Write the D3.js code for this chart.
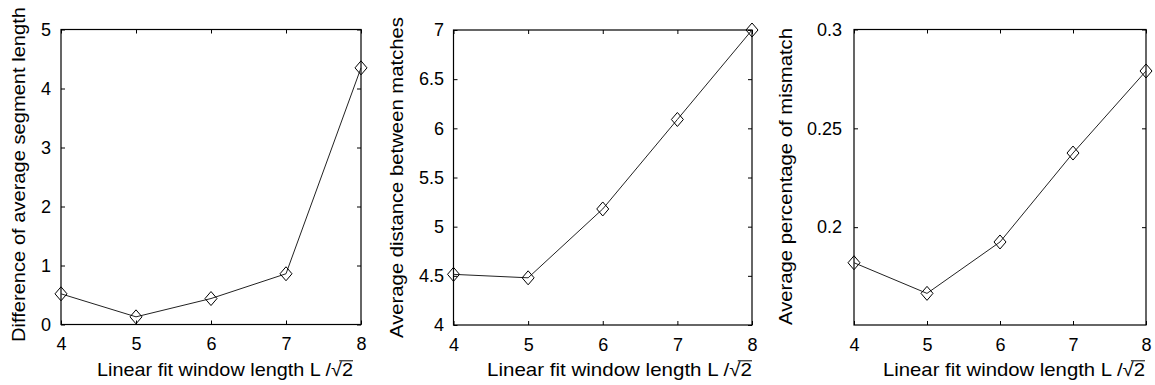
<!DOCTYPE html>
<html>
<head>
<meta charset="utf-8">
<script src="https://cdn.jsdelivr.net/npm/d3@7"></script>
<style>
  body { margin: 0; background: #fff; }
  text { font-family: "Liberation Sans", Arial, sans-serif; fill: #000; }
</style>
</head>
<body>
<svg id="chart" width="1155" height="385"></svg>
<script>
// window length L/sqrt(2), shared by all three panels
var windowLength = [4, 5, 6, 7, 8];
var xTicks = [4, 5, 6, 7, 8];

// panel 1
var segmentDiff = [0.52, 0.13, 0.44, 0.86, 4.35];
var segmentTicks = [0, 1, 2, 3, 4, 5];

// panel 2
var matchDistance = [4.515, 4.48, 5.18, 6.09, 7.0];
var distanceTicks = [4, 4.5, 5, 5.5, 6, 6.5, 7];

// panel 3
var mismatchPct = [0.182, 0.1665, 0.1925, 0.2375, 0.279];
var mismatchTicks = [0.2, 0.25, 0.3];

var xLabel = "Linear fit window length L /";

var panels = [
    { values: segmentDiff, ticks: segmentTicks, domain: [0, 5], ylabel: "Difference of average segment length",
      box: [61, 361, 29.5, 324.5], ylx: 25, yly: 174.5, yll: 335, xl: [97, 353], gap: 6 },
    { values: matchDistance, ticks: distanceTicks, domain: [4, 7], ylabel: "Average distance between matches",
      box: [453.5, 752, 30, 325], ylx: 403, yly: 177.5, yll: 321, xl: [487, 752], gap: 5.5 },
    { values: mismatchPct, ticks: mismatchTicks, domain: [0.1505, 0.3], ylabel: "Average percentage of mismatch",
      box: [854, 1146, 29.5, 325], ylx: 792, yly: 176.5, yll: 297, xl: [883, 1145], gap: 8 }
];

var svg = d3.select("#chart");
var tickLen = 4;

function diamond(hw, hh){
    return "M0," + (-hh) + "L" + hw + ",0L0," + hh + "L" + (-hw) + ",0Z";
}

panels.forEach(function(p){
    var x = d3.scaleLinear().domain([4, 8]).range([p.box[0], p.box[1]]);
    var y = d3.scaleLinear().domain(p.domain).range([p.box[3], p.box[2]]);
    var g = svg.append("g");

    // box
    g.append("rect")
        .attr("x", p.box[0]).attr("y", p.box[2])
        .attr("width", p.box[1] - p.box[0]).attr("height", p.box[3] - p.box[2])
        .attr("fill", "none").attr("stroke", "#000").attr("stroke-width", 1.2);

    // inward ticks on all four sides
    var xAxisB = d3.axisBottom(x).tickValues(xTicks).tickSizeInner(-tickLen).tickSizeOuter(0).tickPadding(13).tickFormat(d3.format("d"));
    var xAxisT = d3.axisTop(x).tickValues(xTicks).tickSizeInner(-tickLen).tickSizeOuter(0).tickFormat("");
    var yAxisL = d3.axisLeft(y).tickValues(p.ticks).tickSizeInner(-tickLen).tickSizeOuter(0).tickPadding(p.gap + tickLen).tickFormat(d3.format(""));
    var yAxisR = d3.axisRight(y).tickValues(p.ticks).tickSizeInner(-tickLen).tickSizeOuter(0).tickFormat("");

    [[xAxisB, "translate(0," + p.box[3] + ")"], [xAxisT, "translate(0," + p.box[2] + ")"],
     [yAxisL, "translate(" + p.box[0] + ",0)"], [yAxisR, "translate(" + p.box[1] + ",0)"]].forEach(function(a){
        var ag = g.append("g").attr("transform", a[1]).call(a[0]);
        ag.select(".domain").remove();
        ag.selectAll("line").attr("stroke", "#000");
        ag.selectAll("text").attr("font-size", 18).attr("font-family", "Liberation Sans, Arial, sans-serif").attr("fill", "#000");
    });

    // data line
    var line = d3.line().x(function(d, i){ return x(windowLength[i]); }).y(function(d){ return y(d); });
    g.append("path").datum(p.values)
        .attr("d", line).attr("fill", "none").attr("stroke", "#222").attr("stroke-width", 1);

    g.selectAll(".mk").data(p.values).enter().append("path")
        .attr("class", "mk")
        .attr("transform", function(d, i){ return "translate(" + x(windowLength[i]) + "," + y(d) + ")"; })
        .attr("d", diamond(6, 7))
        .attr("fill", "none").attr("stroke", "#000").attr("stroke-width", 1);

    // y label
    g.append("text")
        .attr("transform", "translate(" + p.ylx + "," + p.yly + ") rotate(-90)")
        .attr("text-anchor", "middle")
        .attr("font-size", 19)
        .attr("textLength", p.yll).attr("lengthAdjust", "spacingAndGlyphs")
        .text(p.ylabel);

    // x label with sqrt(2)
    var xl = g.append("text")
        .attr("x", p.xl[0]).attr("y", 376)
        .attr("font-size", 19)
        .attr("textLength", p.xl[1] - p.xl[0]).attr("lengthAdjust", "spacingAndGlyphs")
        .text(xLabel + "\u221A2");
    var n = xl.text().length;
    var root = xl.node().getExtentOfChar(n - 2);
    var two = xl.node().getExtentOfChar(n - 1);
    var oy = 376 - 19 * 0.8;
    g.append("line")
        .attr("x1", root.x + root.width * 0.75).attr("x2", two.x + two.width)
        .attr("y1", oy).attr("y2", oy)
        .attr("stroke", "#000").attr("stroke-width", 1);
});
</script>
</body>
</html>
